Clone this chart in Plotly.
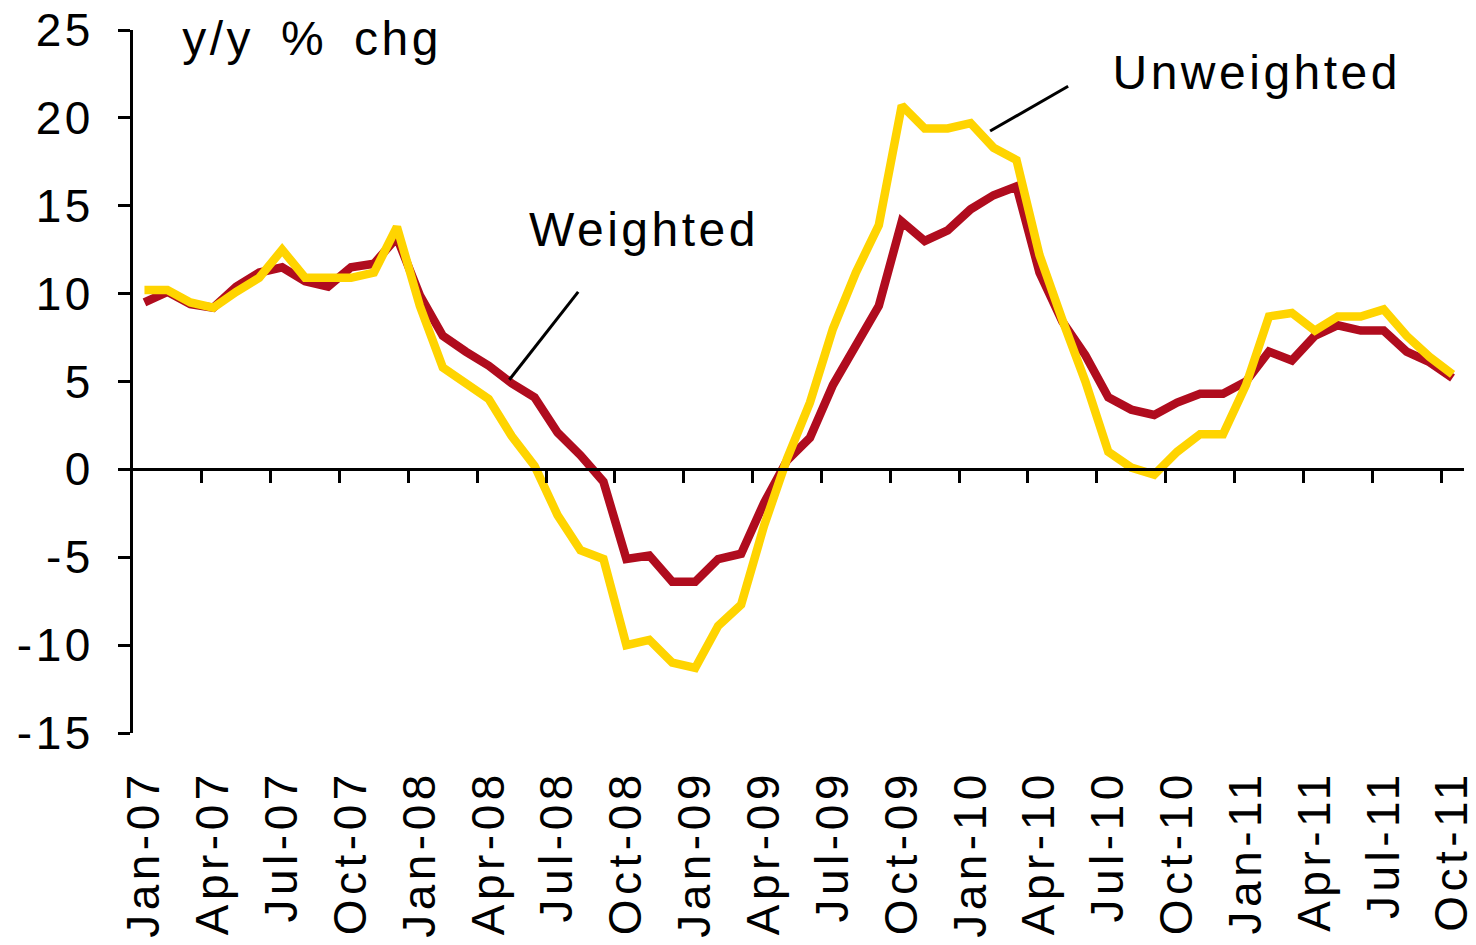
import plotly.graph_objects as go

months = [f"{m}-{y:02d}" for y in range(7, 12) for m in
          ["Jan", "Feb", "Mar", "Apr", "May", "Jun", "Jul", "Aug", "Sep", "Oct", "Nov", "Dec"]][:58]

weighted = [9.5, 10.1, 9.4, 9.2, 10.4, 11.2, 11.5, 10.7, 10.4, 11.5, 11.7, 13.2,
            9.9, 7.6, 6.7, 5.9, 4.9, 4.1, 2.1, 0.8, -0.7, -5.1, -4.9, -6.4,
            -6.4, -5.1, -4.8, -1.9, 0.5, 1.8, 4.8, 7.1, 9.3, 14.1, 13.0, 13.6,
            14.8, 15.6, 16.1, 11.2, 8.4, 6.5, 4.1, 3.4, 3.1, 3.8, 4.3, 4.3,
            5.0, 6.7, 6.2, 7.6, 8.2, 7.9, 7.9, 6.7, 6.1, 5.2]

unweighted = [10.2, 10.2, 9.5, 9.2, 10.1, 10.9, 12.5, 10.9, 10.9, 10.9, 11.2, 13.8,
              9.3, 5.8, 4.9, 4.0, 1.9, 0.2, -2.6, -4.6, -5.1, -10.0, -9.7, -11.0,
              -11.3, -8.9, -7.7, -3.2, 0.6, 3.8, 8.0, 11.2, 13.9, 20.7, 19.4, 19.4,
              19.7, 18.3, 17.6, 12.2, 8.5, 5.0, 1.0, 0.1, -0.3, 1.0, 2.0, 2.0,
              4.8, 8.7, 8.9, 7.9, 8.7, 8.7, 9.1, 7.6, 6.4, 5.4]

y_ticks = [-15, -10, -5, 0, 5, 10, 15, 20, 25]
y_tick_text = ["-15", "-10", "-5", "0", "5", "10", "15", "20", "25"]

RED = "#B00C1E"
YELLOW = "#FFD400"
FONT = "Liberation Sans, Arial, sans-serif"
TICK_FS = 46
ANN_FS = 48

idx = list(range(len(months)))
label_idx = idx[::3]
label_txt = [months[i] for i in label_idx]
boundary_ticks = [i + 2.5 for i in range(0, len(months) - 3, 3)]

fig = go.Figure()
fig.add_trace(go.Scatter(x=idx, y=weighted, mode="lines", name="Weighted",
                         line=dict(color=RED, width=8.5), showlegend=False))
fig.add_trace(go.Scatter(x=idx, y=unweighted, mode="lines", name="Unweighted",
                         line=dict(color=YELLOW, width=8.5), showlegend=False))
fig.add_trace(go.Scatter(x=[None], y=[None], xaxis="x2", showlegend=False,
                         hoverinfo="skip"))

xr = [-0.5, len(months) - 0.5]
yr = [-15, 25]

fig.update_layout(
    width=1476, height=945,
    margin=dict(l=133, r=12, t=30, b=212, autoexpand=False),
    plot_bgcolor="white", paper_bgcolor="white",
    font=dict(family=FONT, size=TICK_FS, color="black"),
    xaxis=dict(range=xr, tickmode="array", tickvals=label_idx, ticktext=label_txt,
               tickangle=-90, showline=False, ticks="", showgrid=False, zeroline=False,
               ticklabelstandoff=27, ticklabeloverflow="allow",
               tickfont=dict(size=TICK_FS), automargin=False),
    xaxis2=dict(range=xr, overlaying="x", anchor="free", position=(0 - yr[0]) / (yr[1] - yr[0]),
                side="bottom", showline=True, linecolor="black", linewidth=3,
                ticks="outside", ticklen=12, tickwidth=3, tickcolor="black",
                tickmode="array", tickvals=boundary_ticks, showticklabels=False,
                showgrid=False, zeroline=False, automargin=False),
    yaxis=dict(range=yr, tickmode="array", tickvals=y_ticks, ticktext=y_tick_text,
               showline=True, linecolor="black", linewidth=3, ticks="outside",
               ticklen=12, tickwidth=3, tickcolor="black", showgrid=False, zeroline=False,
               ticklabelstandoff=15, tickfont=dict(size=TICK_FS), automargin=False),
)

fig.add_annotation(x=7.28, y=24.5, xanchor="center", yanchor="middle", text="y/y % chg",
                   showarrow=False, font=dict(size=ANN_FS))
fig.add_annotation(x=21.76, y=13.65, xanchor="center", yanchor="middle", text="Weighted",
                   showarrow=False, font=dict(size=ANN_FS))
fig.add_annotation(x=48.5, y=22.6, xanchor="center", yanchor="middle", text="Unweighted",
                   showarrow=False, font=dict(size=ANN_FS))
fig.add_shape(type="line", xref="x", yref="y", x0=18.9, y0=10.1, x1=15.9, y1=5.1,
              line=dict(color="black", width=3))
fig.add_shape(type="line", xref="x", yref="y", x0=40.25, y0=21.8, x1=36.85, y1=19.25,
              line=dict(color="black", width=3))

# page without body margin; wider letter spacing of the text, as in the reference
post = """
document.body.style.margin = '0';
document.querySelectorAll('.xtick text').forEach(function(t){
  t.style.letterSpacing = '4.5px';
});
document.querySelectorAll('.ytick text').forEach(function(t){
  t.style.letterSpacing = '3.5px';
});
document.querySelectorAll('.annotation-text').forEach(function(t){
  t.style.letterSpacing = '3.5px';
  t.style.wordSpacing = '10px';
});
"""
fig.write_html("out.html", post_script=post, config={"displayModeBar": False})
